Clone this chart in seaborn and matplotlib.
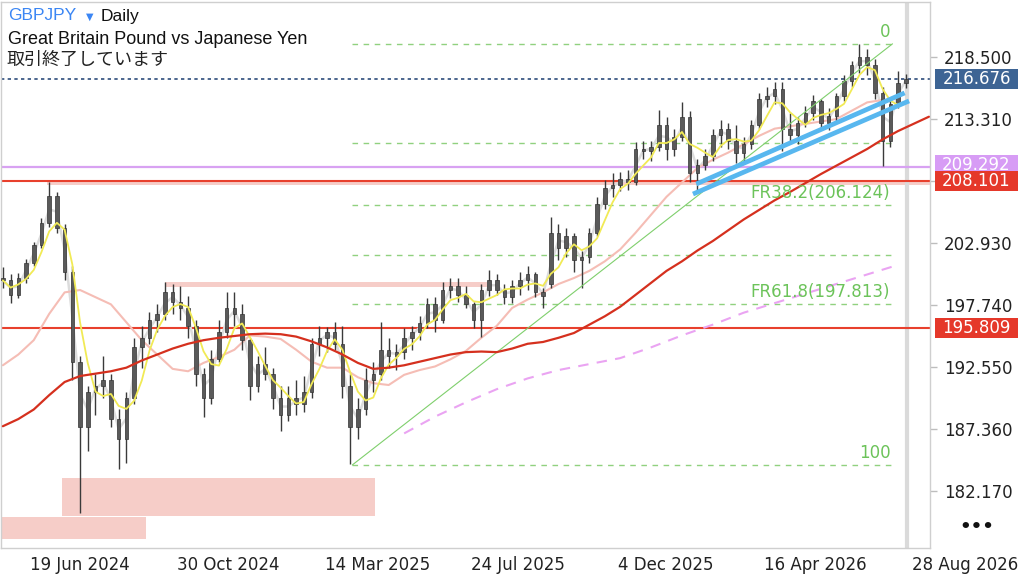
import numpy as np
import pandas as pd
import matplotlib
matplotlib.use("Agg")
import matplotlib.pyplot as plt
import matplotlib.dates as mdates
import matplotlib.transforms as mtransforms
from matplotlib.patches import Rectangle
import seaborn as sns

# weekly candles (one per week, Wednesday)
candle_start = "2024-05-29"
opens = [200.0, 199.8, 198.6, 200.0, 201.3, 202.8, 204.6, 206.9, 204.2, 200.5,
         193.0, 187.5, 190.5, 191.0, 191.5, 188.2, 186.5, 190.0, 194.2, 195.0,
         196.5, 197.0, 198.8, 198.0, 197.5, 196.0, 192.0, 190.0, 193.2, 195.5,
         197.5, 197.0, 194.8, 191.0, 192.8, 192.0, 190.0, 188.5, 190.0, 189.5,
         190.5, 194.5, 195.0, 195.5, 194.5, 191.0, 187.5, 189.0, 191.5, 192.0,
         194.0, 193.5, 193.8, 195.0, 195.5, 196.2, 197.8, 196.5, 199.0, 199.3,
         198.6, 197.8, 196.5, 199.0, 199.8, 199.0, 198.4, 199.3, 199.8, 200.3,
         198.8, 199.5, 203.8, 202.5, 203.5, 201.5, 201.8, 203.8, 206.2, 207.5,
         207.8, 208.3, 208.0, 210.8, 210.6, 211.0, 212.8, 210.8, 211.8, 213.5,
         208.8, 209.5, 210.2, 212.0, 212.5, 211.5, 210.5, 211.2, 212.8, 215.0,
         215.2, 215.8, 212.5, 212.0, 213.0, 213.8, 214.8, 213.0, 213.6, 215.2,
         216.5, 217.8, 218.5, 217.8, 215.5, 211.5, 214.6, 216.3]
highs = [200.9, 200.3, 200.4, 201.6, 203.0, 205.0, 208.0, 207.2, 204.5, 201.0,
         193.5, 191.0, 192.0, 193.5, 192.0, 189.0, 190.5, 195.0, 196.0, 197.2,
         197.8, 199.7, 199.5, 199.3, 198.5, 196.5, 192.5, 194.0, 196.5, 198.8,
         198.8, 197.8, 195.0, 193.5, 194.2, 192.5, 191.0, 191.0, 191.5, 191.8,
         195.0, 196.0, 195.9, 196.3, 196.0, 192.0, 190.0, 192.5, 193.0, 196.3,
         195.0, 194.5, 195.8, 196.0, 196.8, 198.3, 198.4, 199.7, 200.0, 200.0,
         199.3, 198.0, 199.5, 200.7, 200.3, 199.5, 199.8, 200.5, 201.0, 200.5,
         199.2, 205.1, 204.5, 204.2, 203.8, 202.3, 204.2, 206.8, 208.2, 208.8,
         208.9, 209.0, 211.4, 211.5, 211.5, 214.1, 213.5, 212.5, 214.7, 214.0,
         210.0, 210.8, 212.5, 213.2, 213.0, 212.8, 211.8, 213.2, 215.5, 216.0,
         216.4, 216.4, 213.8, 213.5, 214.4, 215.3, 215.0, 214.2, 215.5, 217.0,
         218.2, 219.58, 219.2, 218.3, 216.0, 215.0, 217.3, 217.1]
lows = [199.2, 197.9, 198.3, 199.6, 201.0, 202.5, 204.3, 203.8, 199.8, 191.5,
        180.3, 185.5, 188.5, 190.0, 187.5, 184.0, 184.5, 189.5, 192.5, 194.5,
        195.5, 196.5, 197.0, 196.5, 195.0, 191.0, 188.4, 189.5, 193.0, 195.0,
        196.0, 194.0, 189.8, 190.5, 191.5, 189.0, 187.2, 188.0, 188.5, 188.8,
        190.0, 193.5, 193.8, 194.0, 190.0, 184.4, 186.5, 188.5, 190.5, 191.5,
        192.5, 192.3, 193.2, 194.0, 194.8, 195.8, 195.5, 196.2, 198.3, 198.0,
        197.5, 195.8, 195.1, 198.5, 198.6, 197.8, 197.9, 198.6, 199.0, 198.4,
        197.5, 199.2, 201.5, 201.8, 200.5, 199.2, 201.3, 203.5, 205.8, 206.8,
        207.3, 207.4, 207.8, 210.0, 209.8, 210.6, 209.9, 210.2, 211.5, 208.0,
        207.1, 209.0, 209.8, 211.0, 210.8, 209.6, 209.6, 210.8, 212.5, 214.3,
        214.6, 210.6, 211.3, 211.2, 212.6, 213.2, 212.4, 212.4, 213.0, 214.8,
        216.0, 217.2, 217.0, 215.0, 209.4, 211.0, 214.2, 215.9]
closes = [199.8, 198.6, 200.0, 201.3, 202.8, 204.6, 206.9, 204.2, 200.5, 193.0,
          187.5, 190.5, 191.0, 191.5, 188.2, 186.5, 190.0, 194.2, 195.0, 196.5,
          197.0, 198.8, 198.0, 197.5, 196.0, 192.0, 190.0, 193.2, 195.5, 197.5,
          197.0, 194.8, 191.0, 192.8, 192.0, 190.0, 188.5, 190.0, 189.5, 190.5,
          194.5, 195.0, 195.5, 194.5, 191.0, 187.5, 189.0, 191.5, 192.0, 194.0,
          193.5, 193.8, 195.0, 195.5, 196.2, 197.8, 196.5, 199.0, 199.3, 198.6,
          197.8, 196.5, 199.0, 199.8, 199.0, 198.4, 199.3, 199.8, 200.3, 198.8,
          198.5, 203.8, 202.5, 203.5, 201.5, 201.8, 203.8, 206.2, 207.5, 207.8,
          208.3, 208.0, 210.8, 210.6, 211.0, 212.8, 210.8, 211.8, 213.5, 208.8,
          209.5, 210.2, 212.0, 212.5, 211.5, 210.5, 211.2, 212.8, 215.0, 215.2,
          215.8, 212.5, 212.0, 213.0, 213.8, 214.8, 213.0, 213.6, 215.2, 216.5,
          217.8, 218.5, 217.8, 215.5, 211.5, 214.6, 216.3, 216.676]

# slow moving averages, sampled every 2 weeks from candle_start
red_ma = [187.6, 188.2, 189.0, 190.2, 191.3, 191.8, 192.0, 192.2, 192.5, 193.1,
          193.6, 194.1, 194.5, 194.8, 195.0, 195.15, 195.3, 195.35, 195.3, 195.1,
          194.7, 194.2, 193.6, 192.9, 192.4, 192.5, 192.7, 193.0, 193.3, 193.6,
          193.8, 193.85, 193.8, 194.1, 194.5, 194.65, 195.0, 195.4, 196.1, 196.8,
          197.6, 198.6, 199.6, 200.6, 201.4, 202.3, 203.1, 204.0, 204.9, 205.7,
          206.5, 207.2, 207.95, 208.7, 209.4, 210.1, 210.8, 211.6, 212.3, 212.9,
          213.5]
pink_ma = [192.7, 193.6, 194.8, 197.0, 198.8, 199.0, 198.4, 197.8, 196.3, 194.8,
           193.6, 192.4, 192.2, 192.9, 193.4, 194.0, 195.2, 195.1, 194.9, 194.0,
           193.0, 192.5, 192.5, 191.7, 191.2, 191.05, 191.9, 192.3, 192.6, 193.2,
           193.9, 195.0, 196.0, 197.5, 198.2, 198.8, 199.5, 200.0, 200.6, 201.4,
           202.4, 203.8, 205.3, 206.8, 208.0, 209.2, 209.9, 210.5, 211.2, 211.9,
           212.5, 212.7, 212.9, 213.1, 213.3, 214.0, 214.7, 214.9, 215.0]
violet_start = "2025-05-28"  # sampled every 4 weeks
violet_ma = [187.0, 188.4, 189.6, 190.7, 191.6, 192.3, 192.8, 193.3, 194.2,
             195.2, 196.1, 197.1, 197.9, 198.7, 199.5, 200.3, 201.1]

# levels and drawings
last_price = 216.676
res_red = 208.101
sup_red = 195.809
lilac_level = 209.292
fib_high = 219.577
fib_low = 184.361
fib_ratios = [0.0, 0.236, 0.382, 0.5, 0.618, 1.0]
fib_start, fib_end = "2025-04-11", "2026-08-14"
trend_line = (["2025-04-11", "2026-08-14"], [184.361, 219.6])
channel_low = (["2026-02-14", "2026-08-29"], [207.03, 214.82])
channel_up = (["2026-02-17", "2026-08-25"], [207.87, 215.49])
zones = [  # start, end, low, high
    ("2024-07-22", "2025-05-02", 180.09, 183.27),
    ("2024-05-20", "2024-10-06", 178.2, 180.0),
    ("2024-07-08", "2026-10-01", 207.77, 208.10),
    ("2024-10-23", "2025-08-11", 199.25, 199.65),
]
y_ticks = [182.17, 187.36, 192.55, 197.74, 202.93, 208.12, 213.31, 218.50]
x_tick_dates = ["2024-06-19", "2024-10-30", "2025-03-14", "2025-07-24",
                "2025-12-04", "2026-04-16", "2026-08-28"]
x_tick_labels = ["19 Jun 2024", "30 Oct 2024", "14 Mar 2025", "24 Jul 2025",
                 "4 Dec 2025", "16 Apr 2026", "28 Aug 2026"]
now_date = "2026-08-27"

sns.set_theme(style="white")
plt.rcParams["font.family"] = ["DejaVu Sans", "Noto Sans CJK JP"]

dn = lambda d: mdates.date2num(pd.to_datetime(d))

df = pd.DataFrame({"date": pd.date_range(candle_start, periods=len(closes), freq="7D"),
                   "open": opens, "high": highs, "low": lows, "close": closes})
df["x"] = mdates.date2num(df["date"])
df["fast"] = df["close"].rolling(2, min_periods=1).mean()
df["ma20"] = df["close"].rolling(4, min_periods=1).mean()

red_df = pd.DataFrame({"x": mdates.date2num(pd.date_range(candle_start, periods=len(red_ma), freq="14D")),
                       "v": red_ma})
pink_df = pd.DataFrame({"x": mdates.date2num(pd.date_range(candle_start, periods=len(pink_ma), freq="14D")),
                        "v": pink_ma})
vio_df = pd.DataFrame({"x": mdates.date2num(pd.date_range(violet_start, periods=len(violet_ma), freq="28D")),
                       "v": violet_ma})

fig = plt.figure(figsize=(10.24, 5.76), dpi=100)
ax = fig.add_axes([1 / 1024, 28 / 576, 929 / 1024, 546 / 576])
x0 = dn("2024-06-19") - 22.7
x1 = dn("2024-06-19") + 820
ax.set_xlim(x0, x1)
ax.set_ylim(177.41, 223.1)

# zones
for s, e, lo, hi in zones:
    ax.add_patch(Rectangle((dn(s), lo), dn(e) - dn(s), hi - lo,
                           facecolor="#f6cdc8", edgecolor="none", zorder=1))

# horizontal levels
ax.axhline(res_red, color="#e8402d", lw=1.5, zorder=2)
ax.axhline(sup_red, color="#e8402d", lw=1.5, zorder=2)
ax.axhline(lilac_level, color="#d8a2f2", lw=1.6, zorder=2)
ax.axhline(last_price, color="#2e4d7c", lw=1.2, ls=(0, (2, 2)), zorder=2)
ax.axvline(dn(now_date), color="#dadada", lw=3, zorder=1)

# fibonacci
fib_range = fib_high - fib_low
for r in fib_ratios:
    lvl = fib_high - r * fib_range
    ax.plot([dn(fib_start), dn(fib_end)], [lvl, lvl], color="#90d17f",
            lw=1, ls=(0, (4, 4)), zorder=2)
lab_x = dn("2026-08-12")
fib_green = "#6cc35a"
ax.text(lab_x, fib_high + 0.25, "0", color=fib_green, ha="right", va="bottom", fontsize=12, zorder=6)
ax.text(lab_x, fib_high - 0.382 * fib_range + 0.25, "FR38.2(206.124)", color=fib_green,
        ha="right", va="bottom", fontsize=12, zorder=6)
ax.text(lab_x, fib_high - 0.618 * fib_range + 0.25, "FR61.8(197.813)", color=fib_green,
        ha="right", va="bottom", fontsize=12, zorder=6)
ax.text(lab_x, fib_low + 0.25, "100", color=fib_green, ha="right", va="bottom", fontsize=12, zorder=6)
ax.plot(dn(trend_line[0]), trend_line[1], color="#7fcf6c", lw=0.8, zorder=4)

# moving averages behind candles
sns.lineplot(data=df, x="x", y="fast", ax=ax, color="#dcdcdc", lw=1.8, zorder=2)
sns.lineplot(data=pink_df, x="x", y="v", ax=ax, color="#f5bdb5", lw=1.5, zorder=2.5)

# candles
w = 3.2
bottoms = np.minimum(df["open"], df["close"])
heights = np.maximum(np.abs(df["close"] - df["open"]), 0.15)
ax.vlines(df["x"], df["low"], df["high"], color="#3a3a3a", lw=1, zorder=3)
ax.bar(df["x"], heights, bottom=bottoms, width=w, color="#5a5a5a",
       edgecolor="#333333", lw=0.5, zorder=3)

sns.lineplot(data=df, x="x", y="ma20", ax=ax, color="#f1ea55", lw=1.3, zorder=4)
sns.lineplot(data=red_df, x="x", y="v", ax=ax, color="#d5301e", lw=1.6, zorder=4)
sns.lineplot(data=vio_df, x="x", y="v", ax=ax, color="#eaa4f2", lw=1.5,
             ls=(0, (5, 4)), zorder=4)

# channel
for line in (channel_low, channel_up):
    ax.plot(dn(line[0]), line[1], color="#58b7ef", lw=3.4, solid_capstyle="butt", zorder=5)

# axes styling
for sp in ax.spines.values():
    sp.set_color("#cfcfcf")
    sp.set_linewidth(1)
ax.set_xlabel("")
ax.set_ylabel("")
ax.yaxis.tick_right()
ax.set_yticks(y_ticks)
ax.set_yticklabels([f"{v:.3f}" for v in y_ticks])
ax.set_xticks(dn(x_tick_dates))
ax.set_xticklabels(x_tick_labels, ha="left")
ax.tick_params(axis="both", colors="#bdbdbd", labelcolor="#222222", labelsize=12,
               length=5, width=1, direction="out")
ax.tick_params(axis="y", pad=5, left=False, right=True)
ax.tick_params(axis="x", pad=1)
off = mtransforms.ScaledTranslation(4 / 100, 0, fig.dpi_scale_trans)
for lab in ax.get_xticklabels():
    lab.set_transform(lab.get_transform() + off)
ax.grid(False)

# price tags on right axis
tag_tr = mtransforms.blended_transform_factory(ax.transAxes, ax.transData)
tags = [(lilac_level + 0.15, "#d79cf5"), (res_red, "#e5382a"),
        (sup_red, "#e5382a"), (last_price, "#3d6494")]
for i, (lvl, col) in enumerate(tags):
    ax.add_patch(Rectangle((1.0054, lvl - 0.84), 0.0894, 1.68, transform=tag_tr,
                           facecolor=col, edgecolor="none", clip_on=False, zorder=6 + i))
    txt = f"{lvl - 0.15:.3f}" if i == 0 else f"{lvl:.3f}"
    ax.text(1.0054 + 0.0447, lvl, txt, transform=tag_tr, ha="center", va="center",
            color="white", fontsize=12, clip_on=False, zorder=6 + i)

# header texts
fig.text(8 / 1024, 1 - 16 / 576, "GBPJPY", color="#3b86f4", fontsize=12.5,
         family=["Liberation Sans"], va="center")
fig.text(86 / 1024, 1 - 17 / 576, "▼", color="#3b86f4", fontsize=7, va="center")
fig.text(101 / 1024, 1 - 16 / 576, "Daily", color="#111111", fontsize=12.5,
         family=["Liberation Sans"], va="center")
fig.text(8 / 1024, 1 - 40 / 576, "Great Britain Pound vs Japanese Yen", color="#111111",
         fontsize=13, family=["Liberation Sans"], va="center")
fig.text(7 / 1024, 1 - 60 / 576, "取引終了しています", color="#222222",
         fontsize=13, family=["Noto Sans CJK JP", "DejaVu Sans"], va="center")
fig.text(977 / 1024, 1 - 527 / 576, "•••", color="#111111", fontsize=13,
         ha="center", va="center", fontweight="bold")

fig.savefig("out.png", dpi=100)
